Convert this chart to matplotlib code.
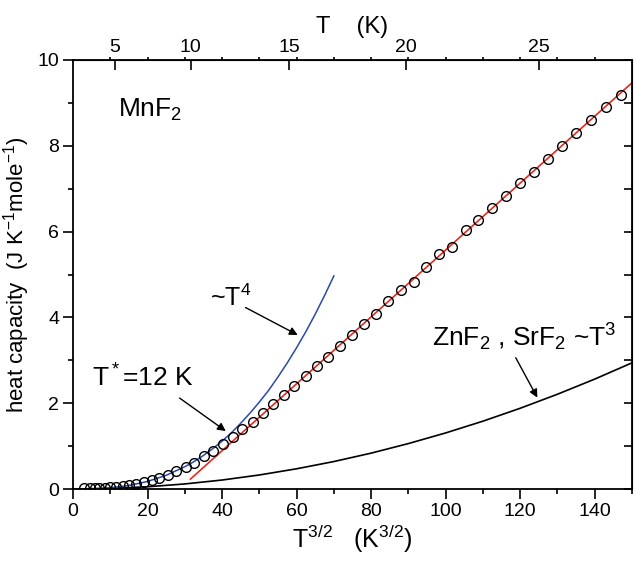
import numpy as np
import matplotlib
matplotlib.use("Agg")
import matplotlib.pyplot as plt
from matplotlib.ticker import MultipleLocator, FixedLocator, NullFormatter

plt.rcParams['font.family'] = ['Liberation Sans', 'DejaVu Sans']
plt.rcParams['mathtext.fontset'] = 'custom'
plt.rcParams['mathtext.rm'] = 'Liberation Sans'
plt.rcParams['mathtext.it'] = 'Liberation Sans:italic'
plt.rcParams['mathtext.default'] = 'regular'

# %% data  (x = T^{3/2} in K^{3/2}, y = C in J/K/mole)
t32_data = [3.0, 4.5, 5.8, 7.1, 8.5, 10.0, 11.6, 13.3, 15.1, 17.0, 19.0, 21.1,
            23.2, 25.4, 27.7, 30.2, 32.6, 35.1, 37.6, 40.2, 42.8, 45.4, 48.3,
            51.0, 53.6, 56.5, 59.4, 62.4, 65.4, 68.5, 71.7, 74.8, 78.2, 81.3,
            84.5, 87.9, 91.4, 94.7, 98.3, 101.8, 105.4, 108.8, 112.4, 116.1,
            119.9, 123.6, 127.4, 131.3, 135.0, 138.9, 142.9, 147.0]
c_data = [0.02, 0.02, 0.02, 0.02, 0.03, 0.04, 0.05, 0.06, 0.09, 0.12, 0.16, 0.20,
          0.26, 0.33, 0.41, 0.51, 0.61, 0.76, 0.89, 1.05, 1.21, 1.39, 1.57,
          1.76, 1.98, 2.19, 2.40, 2.63, 2.86, 3.08, 3.33, 3.58, 3.85, 4.09,
          4.38, 4.63, 4.82, 5.18, 5.47, 5.65, 6.04, 6.27, 6.54, 6.83,
          7.13, 7.40, 7.70, 8.00, 8.31, 8.60, 8.91, 9.19]

# ~T^4 curve (blue)
t4_x = [0, 5, 10, 15, 20, 25, 30, 32.5, 35, 37.5, 40, 42.5, 45, 47.5, 50,
        52.5, 55, 57.5, 60, 62.5, 65, 67.5, 70]
t4_y = [0, 0.004, 0.028, 0.082, 0.176, 0.319, 0.519, 0.64, 0.782, 0.94,
        1.116, 1.31, 1.532, 1.77, 2.026, 2.30, 2.612, 2.94, 3.294, 3.67,
        4.076, 4.51, 4.967]

# linear fit (red)
lin_x = [31.5, 150]
lin_y = [0.23, 9.47]

# ZnF2, SrF2 ~T^3 curve (black)
t3_x = [0, 10, 20, 30, 40, 50, 60, 70, 80, 90, 100, 110, 120, 130, 140, 150]
t3_y = [0, 0.013, 0.052, 0.118, 0.209, 0.327, 0.471, 0.640, 0.836, 1.059,
        1.307, 1.581, 1.882, 2.209, 2.562, 2.941]

top_T_ticks = [5, 10, 15, 20, 25]

# %% figure
fig = plt.figure(figsize=(6.34, 5.63), dpi=100)
ax = fig.add_axes([73/634, 74/563, 559/634, 429/563])

ax.plot(t3_x, t3_y, color='black', lw=1.2)
ax.plot(t4_x, t4_y, color='#2a4aa8', lw=1.1)
ax.plot(lin_x, lin_y, color='#e8281e', lw=1.2)
ax.plot(t32_data, c_data, linestyle='none', marker='o', ms=7, mfc='none',
        mec='black', mew=1.0)

ax.set_xlim(0, 150)
ax.set_ylim(0, 10)

for s in ax.spines.values():
    s.set_linewidth(1.3)

ax.xaxis.set_major_locator(MultipleLocator(20))
ax.xaxis.set_minor_locator(MultipleLocator(10))
ax.yaxis.set_major_locator(MultipleLocator(2))
ax.yaxis.set_minor_locator(MultipleLocator(1))
ax.tick_params(which='major', direction='out', length=7, width=1.2,
               labelsize=14, pad=3, top=False, right=False)
ax.tick_params(which='minor', direction='out', length=3.5, width=1.2,
               top=False, right=False)

ax.set_xlabel('T$^{3/2}$   (K$^{3/2}$)', fontsize=18, labelpad=2)
ax.set_ylabel('heat capacity  (J K$^{-1}$mole$^{-1}$)', fontsize=16, labelpad=4)

# right axis: inward ticks, no labels
ry = ax.secondary_yaxis('right')
ry.yaxis.set_major_locator(MultipleLocator(1))
ry.yaxis.set_major_formatter(NullFormatter())
ry.tick_params(direction='in', length=5.5, width=1.2)

# top axis in T (K)
def fwd(x):
    return np.power(np.clip(x, 0, None), 2/3)

def inv(t):
    return np.power(np.clip(t, 0, None), 1.5)

tx = ax.secondary_xaxis('top', functions=(fwd, inv))
tx.xaxis.set_major_locator(FixedLocator(top_T_ticks))
tx.xaxis.set_minor_locator(FixedLocator([fwd(v) for v in range(10, 150, 10)]))
tx.tick_params(which='major', direction='in', length=7.5, width=1.2,
               labelsize=14, pad=3)
tx.tick_params(which='minor', direction='out', length=2.5, width=1.2)
tx.set_xlabel('T    (K)', fontsize=17, labelpad=4)

# annotations
ax.text(12.0, 8.67, 'MnF$_2$', fontsize=19, ha='left', va='baseline')
ax.text(36.7, 4.27, '~T$^4$', fontsize=18, ha='left', va='baseline')
ax.text(5.1, 2.38, 'T$^*$=12 K', fontsize=19, ha='left', va='baseline')
ax.text(96.4, 3.32, 'ZnF$_2$ , SrF$_2$ ~T$^3$', fontsize=19, ha='left', va='baseline')

arrow = dict(arrowstyle='-|>', color='black', lw=1.0, mutation_scale=12,
             shrinkA=0, shrinkB=0)
ax.annotate('', xy=(60.3, 3.59), xytext=(46.3, 4.23), arrowprops=arrow)
ax.annotate('', xy=(41.0, 1.35), xytext=(28.6, 2.12), arrowprops=arrow)
ax.annotate('', xy=(124.6, 2.13), xytext=(118.8, 3.06), arrowprops=arrow)

fig.savefig('out.png', dpi=100)
